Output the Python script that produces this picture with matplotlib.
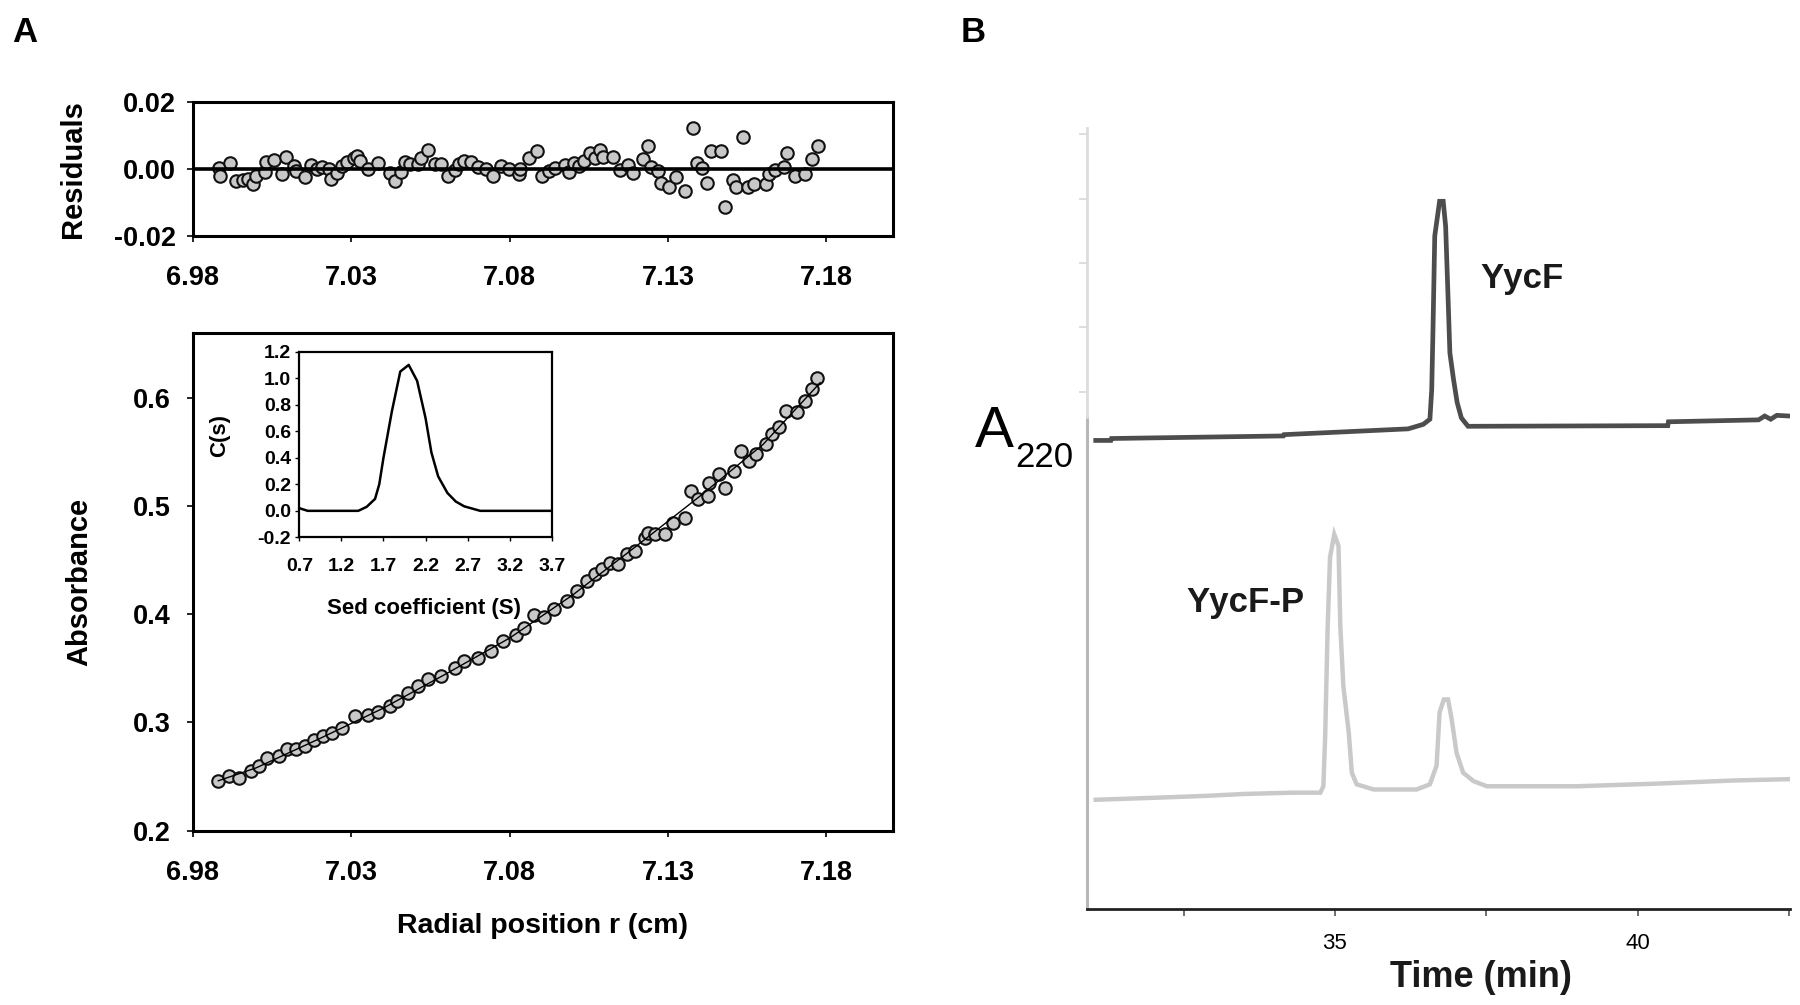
import matplotlib
matplotlib.use("Agg")
import matplotlib.pyplot as plt
import numpy as np

plt.rcParams['font.family'] = ['Liberation Sans', 'DejaVu Sans']
plt.rcParams['axes.unicode_minus'] = False

# ---- panel A data: residuals ----
res_r = [6.9882, 6.9886, 6.9917, 6.9936, 6.9957, 6.9973, 6.9988, 6.9999, 7.0028, 7.0030,
         7.0056, 7.0080, 7.0095, 7.0119, 7.0124, 7.0155, 7.0174, 7.0192, 7.0208, 7.0229,
         7.0237, 7.0255, 7.0270, 7.0286, 7.0307, 7.0317, 7.0328, 7.0354, 7.0385, 7.0422,
         7.0438, 7.0458, 7.0469, 7.0485, 7.0511, 7.0521, 7.0542, 7.0563, 7.0584, 7.0605,
         7.0626, 7.0641, 7.0657, 7.0677, 7.0699, 7.0725, 7.0746, 7.0772, 7.0798, 7.0829,
         7.0834, 7.0861, 7.0887, 7.0903, 7.0924, 7.0944, 7.0976, 7.0986, 7.1002, 7.1018,
         7.1033, 7.1054, 7.1070, 7.1086, 7.1096, 7.1127, 7.1148, 7.1174, 7.1190, 7.1221,
         7.1237, 7.1247, 7.1268, 7.1279, 7.1303, 7.1326, 7.1354, 7.1378, 7.1392, 7.1407,
         7.1422, 7.1436, 7.1467, 7.1481, 7.1504, 7.1514, 7.1535, 7.1551, 7.1572, 7.1608,
         7.1618, 7.1639, 7.1665, 7.1676, 7.1702, 7.1733, 7.1754, 7.1773]
res_v = [0.0003, -0.0020, 0.0017, -0.0036, -0.0033, -0.0030, -0.0044, -0.0020, -0.0010, 0.0020,
         0.0027, -0.0015, 0.0036, 0.0010, -0.0005, -0.0023, 0.0012, 0.0000, 0.0005, 0.0000,
         -0.0030, -0.0013, 0.0010, 0.0020, 0.0034, 0.0040, 0.0025, 0.0000, 0.0017, -0.0013,
         -0.0036, -0.0010, 0.0020, 0.0015, 0.0015, 0.0034, 0.0056, 0.0015, 0.0015, -0.0020,
         -0.0003, 0.0015, 0.0025, 0.0020, 0.0005, 0.0000, -0.0020, 0.0010, 0.0000, -0.0015,
         0.0000, 0.0034, 0.0054, -0.0022, -0.0007, 0.0003, 0.0013, -0.0010, 0.0018, 0.0010,
         0.0023, 0.0049, 0.0033, 0.0057, 0.0037, 0.0037, -0.0004, 0.0013, -0.0012, 0.0030,
         0.0069, 0.0006, -0.0007, -0.0043, -0.0053, -0.0024, -0.0066, 0.0123, 0.0018, 0.0002,
         -0.0043, 0.0055, 0.0055, -0.0112, -0.0032, -0.0053, 0.0097, -0.0053, -0.0046, -0.0046,
         -0.0014, -0.0004, 0.0006, 0.0049, -0.0020, -0.0014, 0.0030, 0.0069]

# ---- panel A data: absorbance scan ----
abs_r = [6.9878, 6.9915, 6.9946, 6.9983, 7.0009, 7.0035, 7.0071, 7.0097, 7.0124, 7.0155,
         7.0181, 7.0212, 7.0238, 7.0270, 7.0312, 7.0354, 7.0385, 7.0422, 7.0443, 7.0480,
         7.0511, 7.0542, 7.0584, 7.0626, 7.0657, 7.0699, 7.0741, 7.0778, 7.0820, 7.0846,
         7.0877, 7.0908, 7.0939, 7.0981, 7.1012, 7.1044, 7.1070, 7.1091, 7.1117, 7.1143,
         7.1169, 7.1195, 7.1227, 7.1237, 7.1258, 7.1289, 7.1316, 7.1352, 7.1373, 7.1394,
         7.1425, 7.1430, 7.1462, 7.1481, 7.1509, 7.1530, 7.1556, 7.1577, 7.1608, 7.1629,
         7.1650, 7.1671, 7.1707, 7.1733, 7.1754, 7.1770]
abs_v = [0.2454, 0.2500, 0.2485, 0.2546, 0.2593, 0.2670, 0.2685, 0.2753, 0.2753, 0.2780,
         0.2840, 0.2870, 0.2900, 0.2948, 0.3056, 0.3070, 0.3100, 0.3148, 0.3194, 0.3270,
         0.3333, 0.3400, 0.3426, 0.3504, 0.3565, 0.3596, 0.3657, 0.3750, 0.3812, 0.3874,
         0.3997, 0.3970, 0.4044, 0.4120, 0.4213, 0.4306, 0.4368, 0.4414, 0.4476, 0.4460,
         0.4553, 0.4583, 0.4707, 0.4753, 0.4738, 0.4738, 0.4846, 0.4893, 0.5140, 0.5062,
         0.5093, 0.5217, 0.5294, 0.5171, 0.5325, 0.5510, 0.5417, 0.5480, 0.5572, 0.5665,
         0.5726, 0.5880, 0.5865, 0.5972, 0.6080, 0.6188]
fit_r = [6.988, 7.00, 7.02, 7.04, 7.06, 7.08, 7.10, 7.12, 7.14, 7.16, 7.178]
fit_v = [0.246, 0.258, 0.285, 0.313, 0.345, 0.378, 0.418, 0.463, 0.509, 0.557, 0.614]

# ---- inset: c(s) distribution ----
sed_s = [0.7, 0.8, 1.4, 1.5, 1.6, 1.65, 1.7, 1.8, 1.9, 2.0, 2.1, 2.2, 2.27, 2.35, 2.46, 2.56,
         2.66, 2.85, 3.7]
sed_c = [0.02, 0.0, 0.0, 0.03, 0.09, 0.2, 0.4, 0.75, 1.05, 1.1, 0.98, 0.7, 0.44, 0.26, 0.135,
         0.07, 0.034, 0.0, 0.0]

# ---- panel B data: chromatograms ----
yycf_t = [31.05, 31.3, 31.31, 34.15, 34.16, 36.21, 36.46, 36.57, 36.6, 36.62, 36.65, 36.73,
          36.79, 36.83, 36.87, 36.9, 36.96, 37.02, 37.09, 37.2, 40.5, 40.51, 42.0, 42.1,
          42.2, 42.3, 42.5]
yycf_a = [6.24, 6.24, 6.27, 6.31, 6.33, 6.42, 6.49, 6.57, 7.03, 7.92, 9.42, 9.96,
          9.96, 9.57, 8.46, 7.60, 7.19, 6.83, 6.59, 6.46, 6.47, 6.53, 6.56, 6.62,
          6.57, 6.63, 6.62]
yycfp_t = [31.05, 32.0, 32.86, 33.5, 34.3, 34.76, 34.81, 34.84, 34.88, 34.92, 34.99, 35.06,
           35.09, 35.14, 35.23, 35.28, 35.36, 35.64, 36.35, 36.57, 36.68, 36.73, 36.8, 36.87,
           36.93, 37.01, 37.12, 37.29, 37.51, 39.0, 40.3, 41.6, 42.5]
yycfp_a = [0.65, 0.68, 0.71, 0.74, 0.76, 0.76, 0.86, 1.64, 3.30, 4.42, 4.78, 4.60,
           3.35, 2.42, 1.69, 1.07, 0.89, 0.81, 0.81, 0.89, 1.18, 2.01, 2.21, 2.21,
           1.90, 1.38, 1.07, 0.94, 0.86, 0.86, 0.90, 0.95, 0.97]

fig = plt.figure(figsize=(18, 10.05), dpi=100)

mk = dict(marker='o', linestyle='none', markersize=9, markerfacecolor='#c8c8c8',
          markeredgecolor='#111111', markeredgewidth=1.5)
tick_kw = dict(labelsize=19.5, width=1.2, length=4, direction='out')

# residuals
ax_r = fig.add_axes([0.1072, 0.7652, 0.3889, 0.1333])
ax_r.plot(res_r, res_v, **mk, zorder=2)
ax_r.axhline(0, color='black', lw=2.6, zorder=3)
ax_r.set_xlim(6.98, 7.201)
ax_r.set_ylim(-0.02, 0.02)
ax_r.set_xticks([6.98, 7.03, 7.08, 7.13, 7.18])
ax_r.set_yticks([-0.02, 0.0, 0.02])
ax_r.set_yticklabels(['-0.02', '0.00', '0.02'])
ax_r.tick_params(axis='x', pad=17, **tick_kw)
ax_r.tick_params(axis='y', pad=8, **tick_kw)
ax_r.set_ylabel('Residuals', fontsize=21, fontweight='bold')
ax_r.yaxis.set_label_coords(-0.152, 0.5)

# absorbance
ax_a = fig.add_axes([0.1072, 0.1736, 0.3889, 0.4951])
ax_a.plot(abs_r, abs_v, **mk, zorder=2)
ax_a.plot(fit_r, fit_v, color='black', lw=1.0, zorder=3)
ax_a.set_xlim(6.98, 7.201)
ax_a.set_ylim(0.2, 0.66)
ax_a.set_xticks([6.98, 7.03, 7.08, 7.13, 7.18])
ax_a.set_yticks([0.2, 0.3, 0.4, 0.5, 0.6])
ax_a.tick_params(axis='x', pad=17, **tick_kw)
ax_a.tick_params(axis='y', pad=12, **tick_kw)
ax_a.set_ylabel('Absorbance', fontsize=21, fontweight='bold')
ax_a.yaxis.set_label_coords(-0.142, 0.5)
ax_a.set_xlabel('Radial position r (cm)', fontsize=20.5, fontweight='bold')
ax_a.xaxis.set_label_coords(0.5, -0.166)

for ax in (ax_r, ax_a):
    for sp in ax.spines.values():
        sp.set_linewidth(2.2)
    for lab in ax.get_xticklabels() + ax.get_yticklabels():
        lab.set_fontweight('bold')

# inset
ax_i = fig.add_axes([0.1663, 0.4653, 0.1402, 0.1848])
ax_i.plot(sed_s, sed_c, color='black', lw=1.8, clip_on=False)
ax_i.set_xlim(0.7, 3.7)
ax_i.set_ylim(-0.2, 1.2)
ax_i.set_xticks([0.7, 1.2, 1.7, 2.2, 2.7, 3.2, 3.7])
ax_i.set_yticks([-0.2, 0.0, 0.2, 0.4, 0.6, 0.8, 1.0, 1.2])
ax_i.set_yticklabels(['%.1f' % v for v in ax_i.get_yticks()])
ax_i.tick_params(axis='x', labelsize=14, width=1, length=3, pad=12)
ax_i.tick_params(axis='y', labelsize=14, width=1, length=3, pad=3)
for lab in ax_i.get_xticklabels() + ax_i.get_yticklabels():
    lab.set_fontweight('bold')
for sp in ax_i.spines.values():
    sp.set_linewidth(1.6)
ax_i.set_xlabel('Sed coefficient (S)', fontsize=16, fontweight='bold')
ax_i.xaxis.set_label_coords(0.495, -0.325)
ax_i.set_ylabel('C(s)', fontsize=16, fontweight='bold')
ax_i.yaxis.set_label_coords(-0.275, 0.55)

# panel B
ax_b = fig.add_axes([0.6037, 0.0955, 0.3908, 0.7771])
ax_b.plot(yycf_t, yycf_a, color='#4d4d4d', lw=3.4, solid_joinstyle='miter')
ax_b.plot(yycfp_t, yycfp_a, color='#c9c9c9', lw=3.2, solid_joinstyle='miter')
ax_b.set_xlim(30.9, 42.52)
ax_b.set_ylim(-1.05, 11.1)
for s in ('top', 'right', 'left'):
    ax_b.spines[s].set_visible(False)
ax_b.spines['bottom'].set_color('#222222')
ax_b.spines['bottom'].set_linewidth(2.0)
ax_b.axvline(30.9, ymin=0.0, ymax=0.63, color='#b8b8b8', lw=2.2, clip_on=False)
ax_b.axvline(30.9, ymin=0.63, ymax=1.0, color='#dcdcdc', lw=2.0, clip_on=False)
ax_b.set_xticks([35, 40])
ax_b.set_xticks([32.5, 37.5, 42.5], minor=True)
ax_b.tick_params(axis='x', which='both', labelsize=16, color='#555555', width=1.2,
                 length=5, pad=12)
ax_b.set_yticks([7, 8, 9, 10, 11])
ax_b.tick_params(axis='y', color='#d8d8d8', width=1.2, length=6, labelleft=False)
ax_b.text(38.09, 8.76, 'YycF', fontsize=25, fontweight='bold', ha='center', va='center',
          color='#1a1a1a')
ax_b.text(33.52, 3.72, 'YycF-P', fontsize=25, fontweight='bold', ha='center', va='center',
          color='#1a1a1a')

fig.text(0.5526, 0.570, 'A', fontsize=42, ha='center', va='center')
fig.text(0.5800, 0.545, '220', fontsize=25, ha='center', va='center')
fig.text(0.8228, 0.027, 'Time (min)', fontsize=26, fontweight='bold', ha='center',
         va='center', color='#1a1a1a')

fig.text(0.0139, 0.968, 'A', fontsize=25, fontweight='bold', ha='center', va='center')
fig.text(0.5406, 0.968, 'B', fontsize=25, fontweight='bold', ha='center', va='center')

fig.savefig('out.png', dpi=100)
